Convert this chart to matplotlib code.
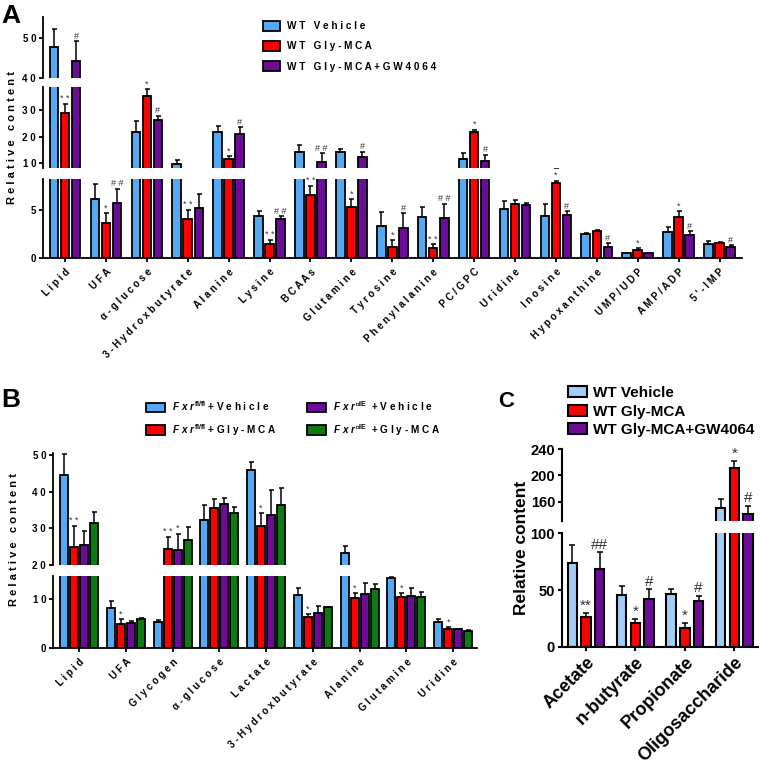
import matplotlib
matplotlib.use("Agg")
import matplotlib.pyplot as plt
from matplotlib.patches import Patch
import numpy as np

plt.rcParams['font.family'] = ['Liberation Sans', 'DejaVu Sans']
plt.rcParams['font.weight'] = 'bold'
plt.rcParams['mathtext.fontset'] = 'custom'
plt.rcParams['mathtext.it'] = 'Liberation Sans:italic:bold'
plt.rcParams['mathtext.rm'] = 'Liberation Sans'
plt.rcParams['mathtext.fallback'] = 'stixsans'

######################################################################################
#####################   DATA
######################################################################################

# PANEL A
a_names = ["Lipid", "UFA", "α-glucose", "3-Hydroxbutyrate", "Alanine", "Lysine", "BCAAs",
           "Glutamine", "Tyrosine", "Phenylalanine", "PC/GPC", "Uridine", "Inosine",
           "Hypoxanthine", "UMP/UDP", "AMP/ADP", "5'-IMP"]
a_vehicle = [47.6, 6.05, 21.85, 9.75, 21.7, 4.35, 14.2, 14.4, 3.3, 4.24, 11.6, 5.1, 4.32, 2.51, 0.54, 2.71, 1.49]
a_vehicle_err = [4.5, 1.6, 3.95, 1.35, 2.4, 0.45, 2.5, 0.9, 1.46, 1.03, 2.3, 0.75, 1.29, 0.1, 0.04, 0.51, 0.24]
a_gly = [28.7, 3.67, 35.2, 4.08, 11.5, 1.49, 6.5, 5.3, 1.18, 1.05, 21.6, 5.61, 7.75, 2.76, 0.82, 4.24, 1.59]
a_gly_err = [3.5, 0.93, 2.4, 0.88, 1.1, 0.38, 0.9, 0.78, 0.69, 0.38, 1.0, 0.34, 0.21, 0.1, 0.2, 0.59, 0.07]
a_gw = [44.1, 5.64, 26.3, 5.13, 21.1, 3.98, 10.5, 12.3, 3.12, 4.11, 10.85, 5.44, 4.42, 1.12, 0.51, 2.35, 1.15]
a_gw_err = [5.0, 1.46, 1.5, 1.43, 2.3, 0.32, 3.2, 2.0, 1.48, 1.46, 2.45, 0.27, 0.38, 0.41, 0.02, 0.41, 0.17]
a_gly_sig = ['**', '*', '*', '**', '*', '**', '**', '*', '*', '**', '*', '', '*', '', '*', '*', '']
a_gw_sig = ['#', '##', '#', '', '#', '##', '##', '#', '#', '##', '#', '', '#', '#', '', '#', '#']
a_legend = ["WT Vehicle", "WT Gly-MCA", "WT Gly-MCA+GW4064"]

# PANEL B
b_names = ["Lipid", "UFA", "Glycogen", "α-glucose", "Lactate", "3-Hydroxbutyrate", "Alanine", "Glutamine", "Uridine"]
b_flfl_vehicle = [44.4, 8.2, 5.3, 32.3, 45.8, 10.9, 23.2, 14.35, 5.37]
b_flfl_vehicle_err = [5.8, 1.5, 0.4, 4.0, 2.2, 1.3, 2.1, 0.25, 0.61]
b_flfl_gly = [24.8, 4.96, 24.4, 35.4, 30.7, 6.3, 10.3, 10.4, 4.0]
b_flfl_gly_err = [5.8, 0.94, 3.3, 2.5, 3.4, 0.7, 0.9, 0.8, 0.3]
b_ie_vehicle = [25.4, 5.1, 24.2, 36.5, 33.7, 7.27, 11.0, 10.6, 3.87]
b_ie_vehicle_err = [3.9, 0.47, 4.3, 1.8, 6.7, 1.3, 2.4, 1.7, 0.13]
b_ie_gly = [31.5, 5.9, 26.8, 34.2, 36.3, 8.37, 12.1, 10.5, 3.53]
b_ie_gly_err = [2.9, 0.35, 3.5, 1.7, 4.6, 0.13, 1.0, 0.9, 0.17]
b_flfl_gly_sig = ['**', '*', '**', '', '*', '*', '*', '*', '*']
b_ie_vehicle_sig = ['', '', '*', '', '', '', '', '', '']

# PANEL C
c_names = ["Acetate", "n-butyrate", "Propionate", "Oligosaccharide"]
c_vehicle = [74.1, 45.6, 46.2, 150.8]
c_vehicle_err = [15.6, 8.0, 5.0, 12.8]
c_gly = [26.2, 20.6, 16.8, 211.9]
c_gly_err = [3.2, 3.6, 3.8, 9.8]
c_gw = [68.3, 42.1, 40.3, 141.2]
c_gw_err = [15.0, 8.5, 4.7, 12.2]
c_gly_sig = ['**', '*', '*', '*']
c_gw_sig = ['##', '#', '#', '#']

BLUE = '#55a8f2'; LIGHTBLUE = '#a3cdf5'; RED = '#ff0000'; PURPLE = '#6c0c98'; GREEN = '#0d7a12'

######################################################################################
#####################   HELPERS
######################################################################################
W, H = 760, 764
fig = plt.figure(figsize=(W / 100, H / 100), dpi=100)

def px_axes(left, top, right, bottom):
    return fig.add_axes([left / W, 1 - bottom / H, (right - left) / W, (bottom - top) / H])

def spaced(s):
    return ' '.join(s)

def draw_panel(left, right, segs, xlim, names, series, errors, colors, offsets, width,
               tick_fs, xlab_fs, sigs, sig_fs, sp, lw=1.3, capsize=1.8, xpad=1):
    axes = []
    x = np.arange(len(names))
    for i, (top, bottom, ylo, yhi, ticks) in enumerate(segs):
        ax = px_axes(left, top, right, bottom)
        ax.set_xlim(*xlim); ax.set_ylim(ylo, yhi)
        for vals, err, col, off in zip(series, errors, colors, offsets):
            ax.bar(x + off, vals, width, color=col, edgecolor='black', linewidth=lw, zorder=2)
            ax.errorbar(x + off, vals, yerr=[np.zeros(len(vals)), err], fmt='none', ecolor='black',
                        elinewidth=1.1, capsize=capsize, capthick=1.1, zorder=3)
        for s in ['top', 'right']:
            ax.spines[s].set_visible(False)
        ax.spines['left'].set_linewidth(lw)
        ax.spines['bottom'].set_linewidth(lw)
        ax.set_yticks(ticks)
        ax.set_yticklabels([sp(str(t)) for t in ticks], fontsize=tick_fs, fontweight='bold')
        ax.tick_params(axis='y', direction='out', length=3, width=lw, pad=2)
        if i < len(segs) - 1:
            ax.spines['bottom'].set_visible(False)
            ax.set_xticks([])
        else:
            ax.set_xticks(x)
            ax.set_xticklabels([sp(n) for n in names], fontsize=xlab_fs, fontweight='bold')
            ax.tick_params(axis='x', direction='out', length=3, width=lw, pad=xpad)
            plt.setp(ax.get_xticklabels(), rotation=45, ha='right', va='top', rotation_mode='anchor')
        ax.patch.set_alpha(0)
        axes.append(ax)

    # significance marks
    for sig, vals, err, off in sigs:
        for k, (s, v, e) in enumerate(zip(sig, vals, err)):
            if not s:
                continue
            yt = v + e
            for (top, bottom, ylo, yhi, ticks), ax in zip(segs, axes):
                if ylo <= yt <= yhi + 1e-9:
                    ax.annotate(sp(s), (k + off, yt), xytext=(0, 0.5), textcoords='offset points',
                                ha='center', va='bottom', fontsize=sig_fs, color='#333333',
                                fontweight='normal', annotation_clip=False)
                    break
    return axes

######################################################################################
#####################   PANEL A
######################################################################################
a_off = [-0.27, 0, 0.27]
a_axes = draw_panel(43, 742,
                    [(17, 77.7, 40, 55.2, [40, 50]),
                     (87.3, 168.3, 8.2, 38.3, [10, 20, 30]),
                     (179.3, 258.3, 0, 8.1, [0, 5])],
                    (-0.54, 16.55), a_names,
                    [a_vehicle, a_gly, a_gw], [a_vehicle_err, a_gly_err, a_gw_err],
                    [BLUE, RED, PURPLE], a_off, 0.21, 7, 7,
                    [(a_gly_sig, a_gly, a_gly_err, a_off[1]), (a_gw_sig, a_gw, a_gw_err, a_off[2])],
                    6.5, spaced, xpad=3)
fig.text(12 / W, 1 - 137 / H, spaced("Relative content"), rotation=90, ha='center', va='center', fontsize=8)
fig.text(1 / W, 1 - 23 / H, "A", fontsize=19, fontweight='bold', ha='left', va='baseline')
a_handles = [Patch(facecolor=c, edgecolor='black', linewidth=1.3) for c in [BLUE, RED, PURPLE]]
fig.legend(a_handles, [spaced(s) for s in a_legend], loc='upper left',
           bbox_to_anchor=(263 / W, 1 - 21 / H), frameon=False, fontsize=7.2,
           handlelength=1.7, handleheight=1.1, handletextpad=0.7, labelspacing=1.0,
           borderpad=0, borderaxespad=0)

######################################################################################
#####################   PANEL B
######################################################################################
b_off = [-0.321, -0.107, 0.107, 0.321]
b_axes = draw_panel(53, 477,
                    [(453.3, 565, 20, 50.4, [20, 30, 40, 50]),
                     (576, 648.3, 0, 14.75, [0, 10])],
                    (-0.556, 8.51), b_names,
                    [b_flfl_vehicle, b_flfl_gly, b_ie_vehicle, b_ie_gly],
                    [b_flfl_vehicle_err, b_flfl_gly_err, b_ie_vehicle_err, b_ie_gly_err],
                    [BLUE, RED, PURPLE, GREEN], b_off, 0.17, 7, 7,
                    [(b_flfl_gly_sig, b_flfl_gly, b_flfl_gly_err, b_off[1]),
                     (b_ie_vehicle_sig, b_ie_vehicle, b_ie_vehicle_err, b_off[2])],
                    6.5, spaced, xpad=3)
fig.text(14 / W, 1 - 540 / H, spaced("Relative content"), rotation=90, ha='center', va='center', fontsize=8)
fig.text(1 / W, 1 - 407 / H, "B", fontsize=19, fontweight='bold', ha='left', va='baseline')
b_labels = [r"$\mathit{F\ x\ r}^{\mathrm{fl/fl}}$" + " + V e h i c l e",
            r"$\mathit{F\ x\ r}^{\mathrm{fl/fl}}$" + " + G l y - M C A",
            r"$\mathit{F\ x\ r}^{\blacktriangle\mathrm{IE}}$" + "  + V e h i c l e",
            r"$\mathit{F\ x\ r}^{\blacktriangle\mathrm{IE}}$" + "  + G l y - M C A"]
b_handles = [Patch(facecolor=c, edgecolor='black', linewidth=1.3) for c in [BLUE, RED, PURPLE, GREEN]]
fig.legend(b_handles, b_labels, loc='upper left', ncol=2,
           bbox_to_anchor=(146 / W, 1 - 399 / H), frameon=False, fontsize=7.2,
           handlelength=1.85, handleheight=1.1, handletextpad=0.7, labelspacing=0.9,
           columnspacing=3.1, borderpad=0, borderaxespad=0)

######################################################################################
#####################   PANEL C
######################################################################################
nospace = lambda s: s
c_off = [-0.277, 0, 0.277]
c_axes = draw_panel(562, 758,
                    [(449.3, 521.3, 130, 240, [160, 200, 240]),
                     (533.3, 646.7, 0, 100, [0, 50, 100])],
                    (-0.486, 3.48), c_names,
                    [c_vehicle, c_gly, c_gw], [c_vehicle_err, c_gly_err, c_gw_err],
                    [LIGHTBLUE, RED, PURPLE], c_off, 0.19, 10.5, 13,
                    [(c_gly_sig, c_gly, c_gly_err, c_off[1]), (c_gw_sig, c_gw, c_gw_err, c_off[2])],
                    11, nospace, lw=1.5, capsize=2.5, xpad=2)
fig.text(521 / W, 1 - 548 / H, "Relative content", rotation=90, ha='center', va='center', fontsize=12.5)
fig.text(498 / W, 1 - 407 / H, "C", fontsize=16, fontweight='bold', ha='left', va='baseline')
c_handles = [Patch(facecolor=c, edgecolor='black', linewidth=1.5) for c in [LIGHTBLUE, RED, PURPLE]]
fig.legend(c_handles, a_legend, loc='upper left',
           bbox_to_anchor=(568 / W, 1 - 386 / H), frameon=False, fontsize=11,
           handlelength=1.25, handleheight=0.7, handletextpad=0.4, labelspacing=0.3,
           borderpad=0, borderaxespad=0)

plt.savefig("out.png", dpi=100)
